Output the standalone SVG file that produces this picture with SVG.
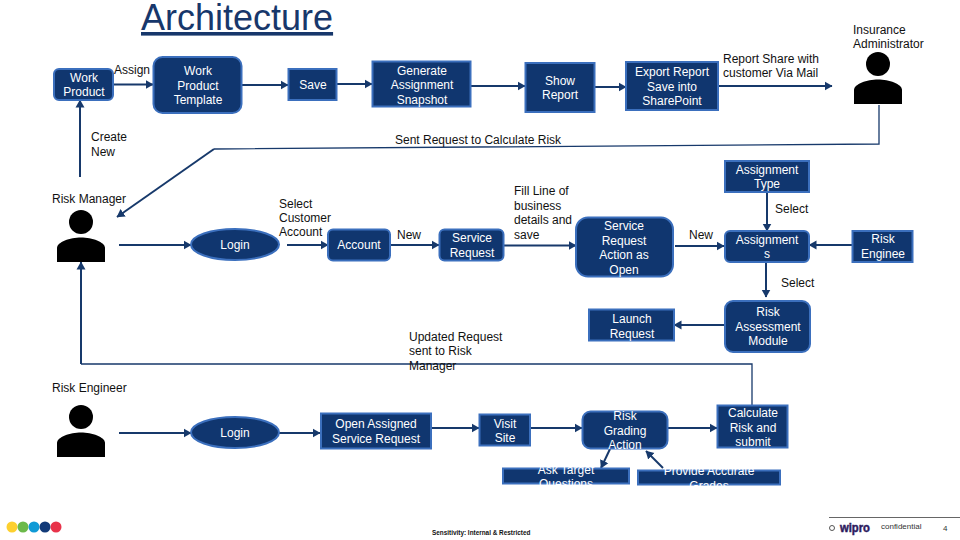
<svg xmlns="http://www.w3.org/2000/svg" width="960" height="540" viewBox="0 0 960 540">
<style>
text{font-family:"Liberation Sans",Arial,sans-serif;font-size:12px;fill:#111}
.n{fill:#10366f;stroke:#3b6fbd;stroke-width:2}
.n+text,.w{fill:#fff;text-anchor:middle}
.c{fill:none;stroke:#17396b;stroke-width:2}
.t{fill:none;stroke:#17396b;stroke-width:1.3}
.p{fill:#000}
</style>
<defs>
<marker id="a" markerUnits="userSpaceOnUse" markerWidth="8" markerHeight="10" refX="7.500" refY="5" orient="auto"><path d="M0 0.500L8 5L0 9.500Z" fill="#17396b"/></marker>
<g id="person"><circle cx="0" cy="0" r="12"/><path d="M-24 40V26C-24 20-11 15.500 0 15.500S24 20 24 26V40Z"/></g>
</defs>
<text x="141" y="30" style="font-size:36px;fill:#17376b;text-decoration:underline">Architecture</text>

<g id="connectors">
<path class="c" marker-end="url(#a)" d="M113 84.500H153"/>
<path class="c" marker-end="url(#a)" d="M242 85H288"/>
<path class="c" marker-end="url(#a)" d="M337 84H372"/>
<path class="c" marker-end="url(#a)" d="M471 86H525"/>
<path class="c" marker-end="url(#a)" d="M595 87H626"/>
<path class="c" marker-end="url(#a)" d="M718 86H832"/>
<path class="c" marker-end="url(#a)" d="M80 177V100"/>
<path class="t" d="M879 105V144L214 149"/>
<path class="c" marker-end="url(#a)" d="M214 149L117 217"/>
<path class="c" marker-end="url(#a)" d="M119 245H191"/>
<path class="c" marker-end="url(#a)" d="M287 245H328"/>
<path class="c" marker-end="url(#a)" d="M390 245H439"/>
<path class="c" marker-end="url(#a)" d="M504 245.500H576"/>
<path class="c" marker-end="url(#a)" d="M675 246H724"/>
<path class="c" marker-end="url(#a)" d="M852 245H809"/>
<path class="c" marker-end="url(#a)" d="M767 192V231"/>
<path class="c" marker-end="url(#a)" d="M766 262V297"/>
<path class="c" marker-end="url(#a)" d="M725 325H674"/>
<path class="t" d="M752 405V364H81"/>
<path class="c" marker-end="url(#a)" d="M81 364V262"/>
<path class="c" marker-end="url(#a)" d="M119 433H191"/>
<path class="c" marker-end="url(#a)" d="M279 433H320"/>
<path class="c" marker-end="url(#a)" d="M431 428H479"/>
<path class="c" marker-end="url(#a)" d="M531 428H582"/>
<path class="c" marker-end="url(#a)" d="M668 428H717"/>
<path class="c" marker-end="url(#a)" d="M610 449L601 468"/>
<path class="c" marker-end="url(#a)" d="M663 468L646 451"/>
</g>

<g id="work-product"><rect class="n" x="54" y="69" width="59" height="31" rx="5"/><text class="w"><tspan x="84" y="82">Work</tspan><tspan x="84" y="96">Product</tspan></text></g>
<g id="work-product-template"><rect class="n" x="153.500" y="57" width="88" height="56" rx="9"/><text class="w"><tspan x="198" y="75">Work</tspan><tspan x="198" y="90">Product</tspan><tspan x="198" y="104">Template</tspan></text></g>
<g id="save"><rect class="n" x="288.500" y="69" width="48" height="31"/><text class="w" x="313" y="89">Save</text></g>
<g id="generate"><rect class="n" x="372.500" y="61.500" width="98" height="45"/><text class="w"><tspan x="422" y="75">Generate</tspan><tspan x="422" y="89">Assignment</tspan><tspan x="422" y="104">Snapshot</tspan></text></g>
<g id="show-report"><rect class="n" x="525.500" y="63" width="69" height="49"/><text class="w"><tspan x="560" y="85">Show</tspan><tspan x="560" y="99">Report</tspan></text></g>
<g id="export-report"><rect class="n" x="626" y="62" width="92" height="48"/><text class="w"><tspan x="672" y="76">Export Report</tspan><tspan x="672" y="91">Save into</tspan><tspan x="672" y="105">SharePoint</tspan></text></g>
<g id="assignment-type"><rect class="n" x="725" y="161" width="84" height="31"/><text class="w"><tspan x="767" y="174">Assignment</tspan><tspan x="767" y="188">Type</tspan></text></g>
<g id="assignments"><rect class="n" x="725" y="231" width="84" height="31" rx="5"/><text class="w"><tspan x="767" y="244">Assignment</tspan><tspan x="767" y="258">s</tspan></text></g>
<g id="risk-engineer-box"><rect class="n" x="852.500" y="231" width="60" height="31"/><text class="w"><tspan x="883" y="243">Risk</tspan><tspan x="883" y="258">Enginee</tspan></text></g>
<g id="service-request-action"><rect class="n" x="576" y="217.500" width="97" height="59" rx="12"/><text class="w"><tspan x="624" y="230">Service</tspan><tspan x="624" y="245">Request</tspan><tspan x="624" y="259">Action  as</tspan><tspan x="624" y="274">Open</tspan></text></g>
<g id="service-request"><rect class="n" x="439.500" y="229.500" width="64" height="31" rx="5"/><text class="w"><tspan x="472" y="242">Service</tspan><tspan x="472" y="257">Request</tspan></text></g>
<g id="account"><rect class="n" x="328" y="229.500" width="62" height="31" rx="5"/><text class="w" x="359" y="249">Account</text></g>
<g id="login-1"><ellipse class="n" cx="235" cy="244.500" rx="44" ry="15.500"/><text class="w" x="235" y="249">Login</text></g>
<g id="risk-assessment"><rect class="n" x="725" y="301" width="85" height="51" rx="8"/><text class="w"><tspan x="768" y="316">Risk</tspan><tspan x="768" y="331">Assessment</tspan><tspan x="768" y="345">Module</tspan></text></g>
<g id="launch-request"><rect class="n" x="589" y="309.500" width="85" height="31"/><text class="w"><tspan x="632" y="323">Launch</tspan><tspan x="632" y="338">Request</tspan></text></g>
<g id="login-2"><ellipse class="n" cx="235" cy="432.500" rx="44" ry="15.500"/><text class="w" x="235" y="437">Login</text></g>
<g id="open-assigned"><rect class="n" x="321" y="413.500" width="110" height="35"/><text class="w"><tspan x="376" y="428">Open Assigned</tspan><tspan x="376" y="443">Service Request</tspan></text></g>
<g id="visit-site"><rect class="n" x="479.500" y="414.500" width="50.500" height="31"/><text class="w"><tspan x="505" y="428">Visit</tspan><tspan x="505" y="442">Site</tspan></text></g>
<g id="risk-grading"><rect class="n" x="582.500" y="411.500" width="85" height="37" rx="8"/><text class="w"><tspan x="625" y="420">Risk</tspan><tspan x="625" y="435">Grading</tspan><tspan x="625" y="449">Action</tspan></text></g>
<g id="calculate"><rect class="n" x="717.500" y="405.500" width="70" height="42"/><text class="w"><tspan x="753" y="417">Calculate</tspan><tspan x="753" y="432">Risk and</tspan><tspan x="753" y="446">submit</tspan></text></g>
<g id="ask-target"><rect class="n" x="503" y="468.500" width="126" height="15"/><text class="w"><tspan x="566" y="474">Ask Target</tspan><tspan x="566" y="488">Questions</tspan></text></g>
<g id="provide-grades"><rect class="n" x="638" y="470.500" width="142" height="14"/><text class="w"><tspan x="709" y="475">Provide Accurate</tspan><tspan x="709" y="490">Grades</tspan></text></g>

<g id="risk-manager" class="p"><use href="#person" x="81" y="222"/><text x="52" y="203">Risk Manager</text></g>
<g id="risk-engineer" class="p"><use href="#person" x="81" y="417"/><text x="52" y="392">Risk Engineer</text></g>
<g id="insurance-admin" class="p"><use href="#person" x="878" y="64"/><text><tspan x="853" y="34">Insurance</tspan><tspan x="853" y="48">Administrator</tspan></text></g>

<g id="labels">
<text x="114" y="74">Assign</text>
<text><tspan x="91" y="141">Create</tspan><tspan x="91" y="156">New</tspan></text>
<text x="395" y="144">Sent Request to Calculate Risk</text>
<text><tspan x="723" y="63">Report Share with</tspan><tspan x="723" y="77">customer Via Mail</tspan></text>
<text><tspan x="279" y="208">Select</tspan><tspan x="279" y="222">Customer</tspan><tspan x="279" y="236">Account</tspan></text>
<text x="397" y="239">New</text>
<text><tspan x="514" y="195">Fill Line of</tspan><tspan x="514" y="210">business</tspan><tspan x="514" y="224">details and</tspan><tspan x="514" y="239">save</tspan></text>
<text x="689" y="239">New</text>
<text x="775" y="213">Select</text>
<text x="781" y="287">Select</text>
<text><tspan x="409" y="341">Updated Request</tspan><tspan x="409" y="355">sent to Risk</tspan><tspan x="409" y="370">Manager</tspan></text>
</g>

<g id="footer">
<circle cx="12" cy="527" r="5.500" fill="#fdd02f"/><circle cx="23" cy="527" r="5.500" fill="#6cb94a"/><circle cx="34" cy="527" r="5.500" fill="#0f9ad6"/><circle cx="45" cy="527" r="5.500" fill="#123a78"/><circle cx="56" cy="527" r="5.500" fill="#e8334a"/>
<text x="432" y="535" style="font-size:6.400px;font-weight:bold">Sensitivity: Internal &amp; Restricted</text>
<path d="M829 517.500H960" stroke="#666" stroke-width="1" fill="none"/>
<circle cx="832" cy="528" r="2.500" fill="none" stroke="#555" stroke-width="1"/>
<text x="840" y="532" textLength="30" lengthAdjust="spacingAndGlyphs" style="font-size:13px;font-weight:bold;fill:#2d1a5e;stroke:#2d1a5e;stroke-width:.5px">wipro</text>
<text x="881" y="529" style="font-size:8px;fill:#333">confidential</text>
<text x="943" y="531" style="font-size:8px;fill:#333">4</text>
</g>
</svg>
